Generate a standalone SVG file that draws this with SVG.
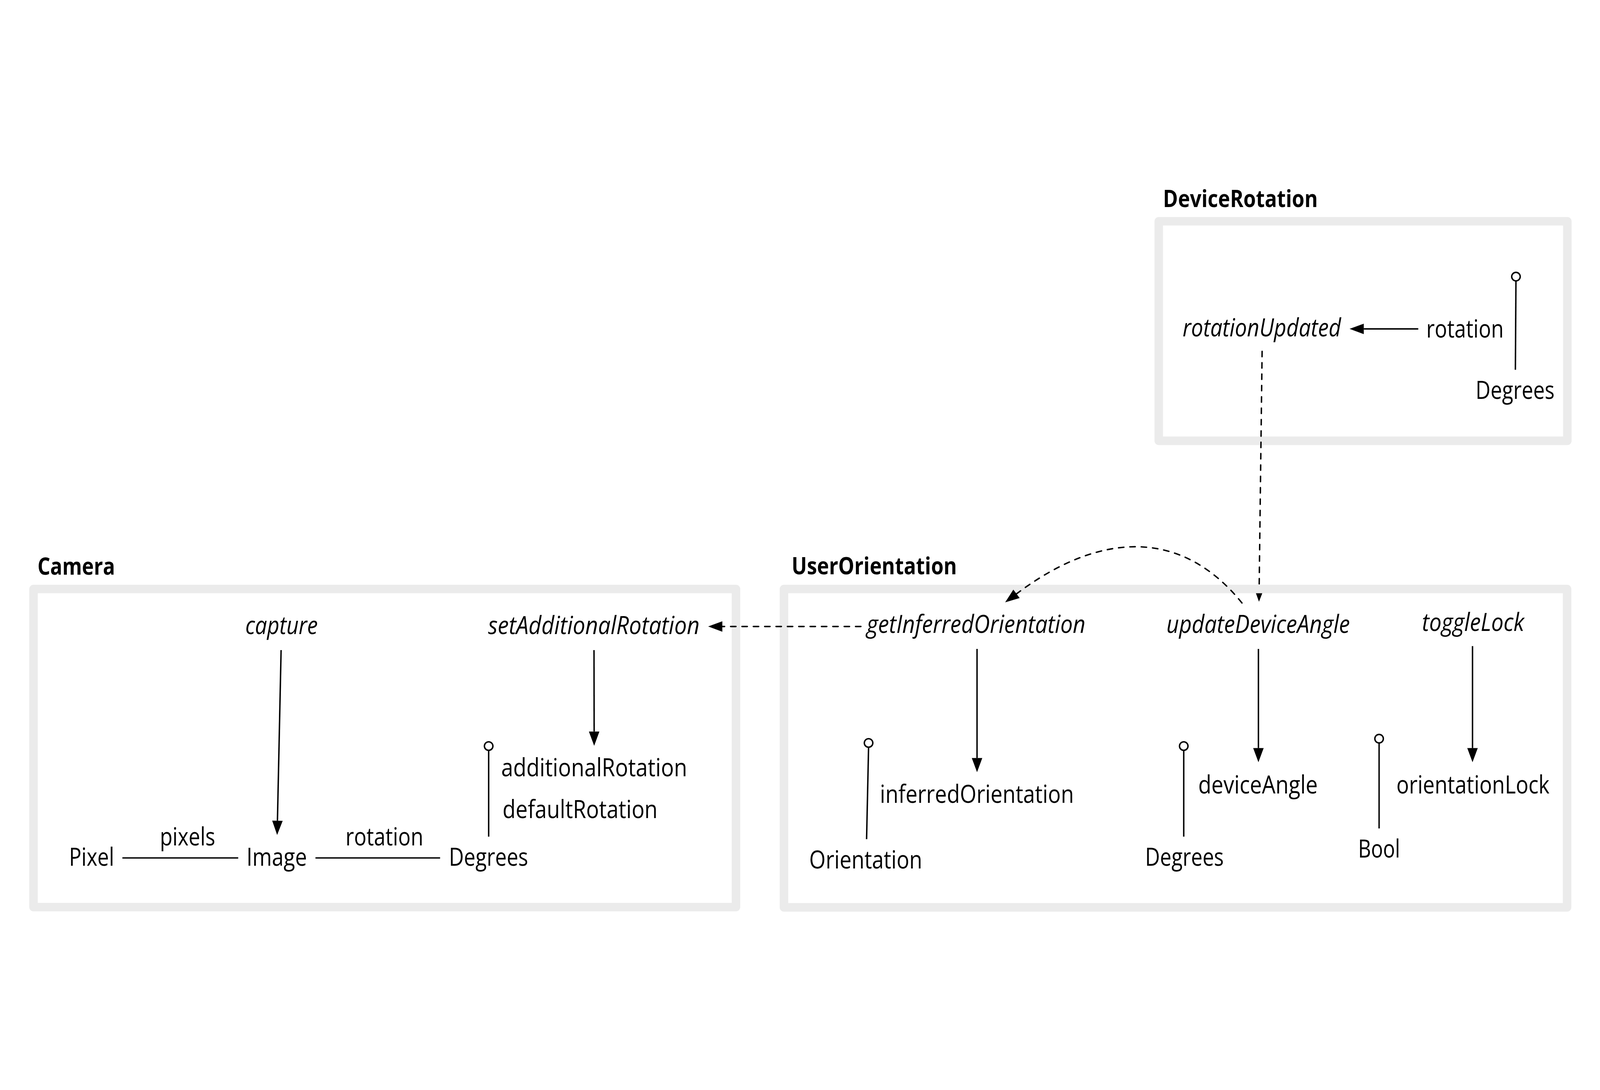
<svg xmlns="http://www.w3.org/2000/svg" width="5635" height="2790" viewBox="0 0 5635 2790" preserveAspectRatio="xMidYMid meet" style="width:100%;height:100%">
<style>
  text { font-family: "Open Sans", "Liberation Sans", sans-serif; fill: #000; }
  .title { font-size: 84px; font-weight: 700; }
  .fn { font-size: 88px; font-style: italic; }
  .lbl { font-size: 88px; }
  .box { fill: none; stroke: #ebebeb; stroke-width: 30; stroke-linejoin: round; }
  .edge { fill: none; stroke: #000; stroke-width: 5; }
  .dash { fill: none; stroke: #000; stroke-width: 5; stroke-dasharray: 19 21; stroke-linecap: round; }
  .lolly { fill: #fff; stroke: #000; stroke-width: 5; }
</style>
<defs>
  <marker id="arrow" markerUnits="userSpaceOnUse" markerWidth="50" markerHeight="37" viewBox="0 0 50 37" refX="0" refY="18.5" orient="auto" overflow="visible">
    <path d="M0,0 L50,18.5 L0,37 Z" fill="#000" stroke="none"/>
  </marker>
  <clipPath id="bandGap">
    <rect x="4300" y="600" width="300" height="935"/>
    <rect x="4300" y="1565" width="300" height="100"/>
  </clipPath>
</defs>
<rect x="0" y="0" width="5635" height="2790" fill="#fff"/>

<g id="DeviceRotation">
  <text class="title" x="4096" y="205" textLength="545" lengthAdjust="spacingAndGlyphs">DeviceRotation</text>
  <rect class="box" x="4081" y="255" width="1439" height="773"/>
  <g id="dr-rotationUpdated"><text class="fn" x="4165" y="660" textLength="558" lengthAdjust="spacingAndGlyphs">rotationUpdated</text></g>
  <g id="dr-rotation"><text class="lbl" x="5023" y="665" textLength="273" lengthAdjust="spacingAndGlyphs">rotation</text></g>
  <g id="dr-Degrees"><text class="lbl" x="5197" y="881" textLength="278" lengthAdjust="spacingAndGlyphs">Degrees</text></g>
</g>

<g id="Camera">
  <text class="title" x="132" y="1500" textLength="273" lengthAdjust="spacingAndGlyphs">Camera</text>
  <rect class="box" x="118" y="1550" width="2474" height="1120"/>
  <g id="cam-capture"><text class="fn" x="864" y="1708" textLength="255" lengthAdjust="spacingAndGlyphs">capture</text></g>
  <g id="cam-setAdditionalRotation"><text class="fn" x="1719" y="1708" textLength="745" lengthAdjust="spacingAndGlyphs">setAdditionalRotation</text></g>
  <g id="cam-additionalRotation"><text class="lbl" x="1765" y="2209" textLength="655" lengthAdjust="spacingAndGlyphs">additionalRotation</text></g>
  <g id="cam-defaultRotation"><text class="lbl" x="1770" y="2357" textLength="546" lengthAdjust="spacingAndGlyphs">defaultRotation</text></g>
  <g id="cam-Pixel"><text class="lbl" x="243" y="2524" textLength="159" lengthAdjust="spacingAndGlyphs">Pixel</text></g>
  <g id="cam-pixels"><text class="lbl" x="563" y="2453" textLength="195" lengthAdjust="spacingAndGlyphs">pixels</text></g>
  <g id="cam-Image"><text class="lbl" x="868" y="2524" textLength="213" lengthAdjust="spacingAndGlyphs">Image</text></g>
  <g id="cam-rotation"><text class="lbl" x="1217" y="2453" textLength="274" lengthAdjust="spacingAndGlyphs">rotation</text></g>
  <g id="cam-Degrees"><text class="lbl" x="1581" y="2525" textLength="279" lengthAdjust="spacingAndGlyphs">Degrees</text></g>
</g>

<g id="UserOrientation">
  <text class="title" x="2788" y="1498" textLength="582" lengthAdjust="spacingAndGlyphs">UserOrientation</text>
  <rect class="box" x="2761" y="1550" width="2758" height="1121"/>
  <g id="uo-getInferredOrientation"><text class="fn" x="3052" y="1704" textLength="771" lengthAdjust="spacingAndGlyphs">getInferredOrientation</text></g>
  <g id="uo-updateDeviceAngle"><text class="fn" x="4108" y="1704" textLength="646" lengthAdjust="spacingAndGlyphs">updateDeviceAngle</text></g>
  <g id="uo-toggleLock"><text class="fn" x="5008" y="1697" textLength="360" lengthAdjust="spacingAndGlyphs">toggleLock</text></g>
  <g id="uo-inferredOrientation"><text class="lbl" x="3099" y="2303" textLength="683" lengthAdjust="spacingAndGlyphs">inferredOrientation</text></g>
  <g id="uo-Orientation"><text class="lbl" x="2850" y="2534" textLength="398" lengthAdjust="spacingAndGlyphs">Orientation</text></g>
  <g id="uo-deviceAngle"><text class="lbl" x="4220" y="2270" textLength="421" lengthAdjust="spacingAndGlyphs">deviceAngle</text></g>
  <g id="uo-Degrees"><text class="lbl" x="4033" y="2524" textLength="277" lengthAdjust="spacingAndGlyphs">Degrees</text></g>
  <g id="uo-orientationLock"><text class="lbl" x="4918" y="2270" textLength="539" lengthAdjust="spacingAndGlyphs">orientationLock</text></g>
  <g id="uo-Bool"><text class="lbl" x="4783" y="2496" textLength="148" lengthAdjust="spacingAndGlyphs">Bool</text></g>
</g>

<g id="connectors">
  <!-- DeviceRotation -->
  <path class="edge" d="M4995,634 L4803,634" marker-end="url(#arrow)"/>
  <path class="edge" d="M5339,465 L5337,778"/>
  <circle class="lolly" cx="5339" cy="450" r="15"/>
  <!-- Camera -->
  <path class="edge" d="M990,1765 L977.1,2366" marker-end="url(#arrow)"/>
  <path class="edge" d="M2092,1765 L2092.5,2052" marker-end="url(#arrow)"/>
  <path class="edge" d="M1721,2118 L1721,2422"/>
  <circle class="lolly" cx="1721" cy="2103" r="15"/>
  <path class="edge" d="M431,2497 L839,2497"/>
  <path class="edge" d="M1111,2497 L1550,2497"/>
  <!-- UserOrientation -->
  <path class="edge" d="M3441,1761 L3441,2145" marker-end="url(#arrow)"/>
  <path class="edge" d="M4432,1761 L4432,2110" marker-end="url(#arrow)"/>
  <path class="edge" d="M5186,1751 L5186,2110" marker-end="url(#arrow)"/>
  <path class="edge" d="M3059,2107 L3052,2431"/>
  <circle class="lolly" cx="3059" cy="2092" r="15"/>
  <path class="edge" d="M4169,2118 L4169,2422"/>
  <circle class="lolly" cx="4169" cy="2103" r="15"/>
  <path class="edge" d="M4857,2092 L4857,2393"/>
  <circle class="lolly" cx="4857" cy="2077" r="15"/>
  <!-- cross-cluster dashed -->
  <path class="dash" d="M4445,713 L4434.6,1545" marker-end="url(#arrow)" clip-path="url(#bandGap)"/>
  <path class="dash" d="M3032,1682 L2544,1682" marker-end="url(#arrow)"/>
  <path class="dash" d="M4374,1599 C4157,1331 3869,1350 3580,1567" marker-end="url(#arrow)"/>
</g>
</svg>
